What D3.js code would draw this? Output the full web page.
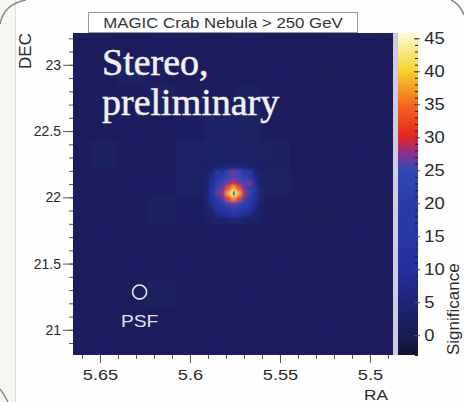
<!DOCTYPE html>
<html>
<head>
<meta charset="utf-8">
<script src="https://cdn.jsdelivr.net/npm/d3@7"></script>
<style>
  html, body { margin: 0; padding: 0; background: #f8f6f2; }
  svg { display: block; font-family: Arial, "Liberation Sans", sans-serif; }
</style>
</head>
<body>
<svg id="svg1" width="464" height="402"></svg>
<script>
// ---- data ----
var titleText = 'MAGIC Crab Nebula > 250 GeV';
var raTicks = [5.65, 5.6, 5.55, 5.5];
var decTicks = [21, 21.5, 22, 22.5, 23];
var sigTicks = [0, 5, 10, 15, 20, 25, 30, 35, 40, 45];

// colour palette of the significance scale
var sigStops = [-3, 0, 5, 10, 20, 25, 27.5, 30, 35, 40, 45.8];
var sigColors = ['#111434', '#181b50', '#1e2575', '#2431a0', '#2a3caa', '#3048b4',
                 '#8a3090', '#e52420', '#f26a1c', '#f5d22a', '#fbfbd8'];

// coarse background map (rows: DEC high -> low, cols: RA high -> low)
var bgRA = [5.664, 5.648, 5.632, 5.616, 5.600, 5.584, 5.568, 5.552, 5.536, 5.520, 5.504, 5.488];
var bgDEC = [23.16, 22.95, 22.74, 22.53, 22.32, 22.11, 21.90, 21.69, 21.48, 21.27, 21.06, 20.85];
var bgStepRA = 0.016, bgStepDEC = 0.21;
var bgVals = [
  [1.8, 2.0, 1.6, 2.2, 1.9, 1.7, 2.1, 1.8, 1.5, 1.9, 2.0, 1.7],
  [2.1, 1.7, 2.3, 1.9, 1.6, 2.0, 1.8, 2.2, 1.7, 1.4, 1.8, 2.0],
  [1.6, 2.2, 1.8, 2.4, 2.0, 1.7, 2.3, 1.9, 2.1, 1.6, 1.9, 1.5],
  [2.0, 1.8, 2.1, 1.7, 2.2, 2.6, 2.4, 2.0, 1.8, 2.2, 1.7, 1.9],
  [1.7, 2.3, 1.9, 2.0, 2.5, 3.0, 2.8, 2.3, 1.6, 1.9, 2.1, 1.8],
  [1.9, 1.6, 2.2, 2.1, 2.6, 3.4, 3.2, 2.4, 1.9, 1.5, 1.8, 2.0],
  [2.2, 1.9, 1.7, 2.3, 2.2, 2.7, 2.5, 2.0, 1.4, 1.3, 1.9, 1.7],
  [1.8, 2.1, 2.0, 1.8, 1.9, 2.2, 2.0, 1.7, 1.6, 1.8, 2.2, 1.9],
  [2.0, 1.7, 2.2, 1.9, 2.1, 1.8, 1.6, 2.1, 1.9, 2.0, 1.7, 2.1],
  [1.7, 2.0, 1.8, 2.3, 1.7, 2.0, 2.2, 1.8, 2.0, 1.6, 1.9, 1.8],
  [2.1, 1.8, 2.0, 1.6, 2.0, 1.9, 1.7, 2.2, 1.8, 2.1, 2.0, 1.7],
  [1.9, 2.2, 1.7, 2.0, 1.8, 2.1, 1.9, 1.6, 2.0, 1.8, 1.7, 2.0]
];

// fine map around the Crab
var srcRA = [5.5908, 5.5878, 5.5848, 5.5818, 5.5788, 5.5758, 5.5728, 5.5698, 5.5668, 5.5638, 5.5608];
var srcDEC = [22.23, 22.19, 22.15, 22.11, 22.07, 22.03, 21.99, 21.95, 21.91, 21.87, 21.83];
var srcStepRA = 0.003, srcStepDEC = 0.04;
var srcVals = [
  [2,  3,  4,  5,  6,  6,  6,  5,  4,  3, 2],
  [3,  5, 18, 12, 24, 27, 25, 14, 20,  5, 3],
  [3,  8, 16, 22, 24, 26, 25, 23, 16,  8, 3],
  [4, 10, 20, 25, 27, 29, 27, 25, 27,  9, 4],
  [5, 12, 24, 27, 33, 38, 33, 27, 22, 11, 5],
  [5, 13, 26, 28, 38, 46, 38, 28, 25, 12, 5],
  [5, 11, 20, 26, 32, 37, 32, 26, 20, 10, 5],
  [4,  9, 15, 22, 25, 27, 25, 22, 15,  8, 4],
  [3,  6, 11, 15, 19, 21, 19, 15, 11,  6, 3],
  [3,  4,  7,  9, 11, 12, 11,  9,  7,  4, 3],
  [2,  3,  3,  4,  5,  6,  5,  4,  3,  3, 2]
];
var peakPos = {ra: 5.5756, dec: 22.03};
var psf = {ra: 5.628, dec: 21.285, r: 0.053};

// ---- layout ----
var plotL = 73, plotR = 393, plotT = 33, plotB = 355;
var barL = 398, barR = 418;

var svg = d3.select('#svg1');

var x = d3.scaleLinear().domain([5.665, 5.4872]).range([plotL, plotR]);
var y = d3.scaleLinear().domain([20.81, 23.24]).range([plotB, plotT]);
var sigY = d3.scaleLinear().domain([-3, 45.8]).range([plotB, plotT]);
var color = d3.scaleLinear().domain(sigStops).range(sigColors).clamp(true);

// paper + frame corners
svg.append('rect').attr('x', 15).attr('y', 0).attr('width', 449).attr('height', 402)
    .attr('fill', '#fefefe');
svg.append('line').attr('x1', 15.5).attr('x2', 15.5).attr('y1', 0).attr('y2', 402)
    .attr('stroke', '#dcdcdc');
svg.append('path').attr('d', 'M0,24 Q4,4 26,0').attr('fill', 'none').attr('stroke', '#8a8a8a').attr('stroke-width', 1.5);
svg.append('path').attr('d', 'M451,0 Q460,4 464,15').attr('fill', 'none').attr('stroke', '#8a8a8a').attr('stroke-width', 1.5);
svg.append('path').attr('d', 'M0,389 Q5,396 8,402').attr('fill', 'none').attr('stroke', '#8a8a8a').attr('stroke-width', 1.5);

var defs = svg.append('defs');
defs.append('clipPath').attr('id', 'plotClip')
    .append('rect').attr('x', plotL).attr('y', plotT)
    .attr('width', plotR - plotL).attr('height', plotB - plotT);
defs.append('filter').attr('id', 'blurBg').attr('x', '-10%').attr('y', '-10%').attr('width', '120%').attr('height', '120%')
    .append('feGaussianBlur').attr('stdDeviation', 4);
defs.append('filter').attr('id', 'blurSrc').attr('x', '-30%').attr('y', '-30%').attr('width', '160%').attr('height', '160%')
    .append('feGaussianBlur').attr('stdDeviation', 1.8);

// cell size in pixels (RA runs right to left)
var bgW = Math.abs(x(bgStepRA) - x(0)), bgH = Math.abs(y(0) - y(bgStepDEC));
var srcW = Math.abs(x(srcStepRA) - x(0)), srcH = Math.abs(y(0) - y(srcStepDEC));

// ---- sky map ----
var map = svg.append('g').attr('clip-path', 'url(#plotClip)');
map.append('rect').attr('x', plotL).attr('y', plotT)
    .attr('width', plotR - plotL).attr('height', plotB - plotT)
    .attr('fill', color(2));

var bgCells = [];
bgVals.forEach(function(row, i) {
  row.forEach(function(v, j) { bgCells.push({ra: bgRA[j], dec: bgDEC[i], v: v}); });
});
map.append('g').attr('filter', 'url(#blurBg)')
  .selectAll('rect').data(bgCells).enter().append('rect')
    .attr('x', function(d) { return x(d.ra + bgStepRA / 2); })
    .attr('y', function(d) { return y(d.dec + bgStepDEC / 2); })
    .attr('width', bgW + 0.5)
    .attr('height', bgH + 0.5)
    .attr('fill', function(d) { return color(d.v); });

var srcCells = [];
srcVals.forEach(function(row, i) {
  row.forEach(function(v, j) { srcCells.push({ra: srcRA[j], dec: srcDEC[i], v: v}); });
});
map.append('g').attr('filter', 'url(#blurSrc)')
  .selectAll('rect').data(srcCells).enter().append('rect')
    .attr('x', function(d) { return x(d.ra + srcStepRA / 2); })
    .attr('y', function(d) { return y(d.dec + srcStepDEC / 2); })
    .attr('width', srcW + 0.5)
    .attr('height', srcH + 0.5)
    .attr('fill', function(d) { return color(d.v); });

// fitted position marker
map.append('ellipse').attr('cx', x(peakPos.ra)).attr('cy', y(peakPos.dec))
    .attr('rx', 1.3).attr('ry', 2.6).attr('fill', '#5c9e30');

// PSF circle
map.append('circle').attr('cx', x(psf.ra)).attr('cy', y(psf.dec))
    .attr('r', y(0) - y(psf.r))
    .attr('fill', 'none').attr('stroke', '#e6e6f0').attr('stroke-width', 1.6);
map.append('text')
    .attr('transform', 'translate(' + x(psf.ra) + ',' + (y(psf.dec) + 35) + ') scale(1.2,1)')
    .attr('text-anchor', 'middle').attr('font-size', 16).attr('fill', '#e2e2ec')
    .text('PSF');

// overlay text
var stereo = svg.append('text').attr('x', 102).attr('font-family', '"Liberation Serif", "DejaVu Serif", serif')
    .attr('font-size', 38).attr('fill', '#f2f2f6')
    .attr('stroke', '#f2f2f6').attr('stroke-width', 0.5);
stereo.append('tspan').attr('x', 102).attr('y', 75).text('Stereo,');
stereo.append('tspan').attr('x', 102).attr('y', 115).text('preliminary');

// ---- axes ----
function styleAxis(g) {
  g.select('.domain').remove();
  g.selectAll('line').attr('stroke', '#555');
  g.selectAll('text').attr('fill', '#2a2a2a');
}

// RA minor + major
svg.append('g').attr('transform', 'translate(0,' + plotB + ')')
    .call(d3.axisBottom(x).tickValues(d3.range(5.49, 5.665, 0.01)).tickSize(4).tickFormat(''))
    .call(styleAxis);
svg.append('g').attr('transform', 'translate(0,' + plotB + ')')
    .call(d3.axisBottom(x).tickValues(raTicks).tickSize(8).tickPadding(7).tickFormat(function(d) { return String(d); }))
    .call(styleAxis)
    .selectAll('text').attr('font-size', 14).attr('transform', 'scale(1.3,1)');

// DEC minor + major
svg.append('g').attr('transform', 'translate(' + plotL + ',0)')
    .call(d3.axisLeft(y).tickValues(d3.range(20.9, 23.24, 0.1)).tickSize(4).tickFormat(''))
    .call(styleAxis);
svg.append('g').attr('transform', 'translate(' + plotL + ',0)')
    .call(d3.axisLeft(y).tickValues(decTicks).tickSize(10).tickPadding(2).tickFormat(function(d) { return String(d); }))
    .call(styleAxis)
    .selectAll('text').attr('font-size', 14);

// axis titles
svg.append('text').attr('transform', 'translate(388,400) scale(1.15,1)')
    .attr('text-anchor', 'end').attr('font-size', 15).attr('fill', '#2a2a2a').text('RA');
svg.append('text').attr('transform', 'translate(31,' + plotT + ') rotate(-90)')
    .attr('text-anchor', 'end').attr('font-size', 17).attr('fill', '#2a2a2a').text('DEC');

// ---- colour bar ----
svg.append('rect').attr('x', plotR).attr('y', plotT).attr('width', barL - plotR).attr('height', plotB - plotT)
    .attr('fill', '#cfcbe0');
var grad = defs.append('linearGradient').attr('id', 'sigGrad')
    .attr('x1', 0).attr('x2', 0).attr('y1', 1).attr('y2', 0);
grad.selectAll('stop').data(sigStops).enter().append('stop')
    .attr('offset', function(d) { return (d - sigStops[0]) / (sigStops[sigStops.length - 1] - sigStops[0]); })
    .attr('stop-color', function(d, i) { return sigColors[i]; });
svg.append('rect').attr('x', barL).attr('y', plotT).attr('width', barR - barL).attr('height', plotB - plotT)
    .attr('fill', 'url(#sigGrad)');

svg.append('g').attr('transform', 'translate(' + (barR - 3) + ',0)')
    .call(d3.axisRight(sigY).tickValues(d3.range(-3, 46, 1)).tickSize(3).tickFormat(''))
    .call(styleAxis)
    .selectAll('line').attr('stroke', '#1a1a30');
svg.append('g').attr('transform', 'translate(' + (barR - 4) + ',0)')
    .call(d3.axisRight(sigY).tickValues(sigTicks).tickSize(6).tickPadding(3).tickFormat(function(d) { return String(d); }))
    .call(styleAxis)
    .selectAll('text').attr('font-size', 16).attr('transform', 'scale(1.15,1)');

svg.append('text').attr('transform', 'translate(459,' + plotB + ') rotate(-90)')
    .attr('text-anchor', 'start').attr('font-size', 17).attr('fill', '#2a2a2a').text('Significance');

// ---- title box ----
svg.append('rect').attr('x', 88.5).attr('y', 12.5).attr('width', 269).attr('height', 20)
    .attr('fill', '#ffffff').attr('stroke', '#9a9a9a');
svg.append('text').attr('transform', 'translate(223,28) scale(1.2,1)')
    .attr('text-anchor', 'middle').attr('font-size', 14).attr('fill', '#333')
    .text(titleText);
</script>
</body>
</html>
